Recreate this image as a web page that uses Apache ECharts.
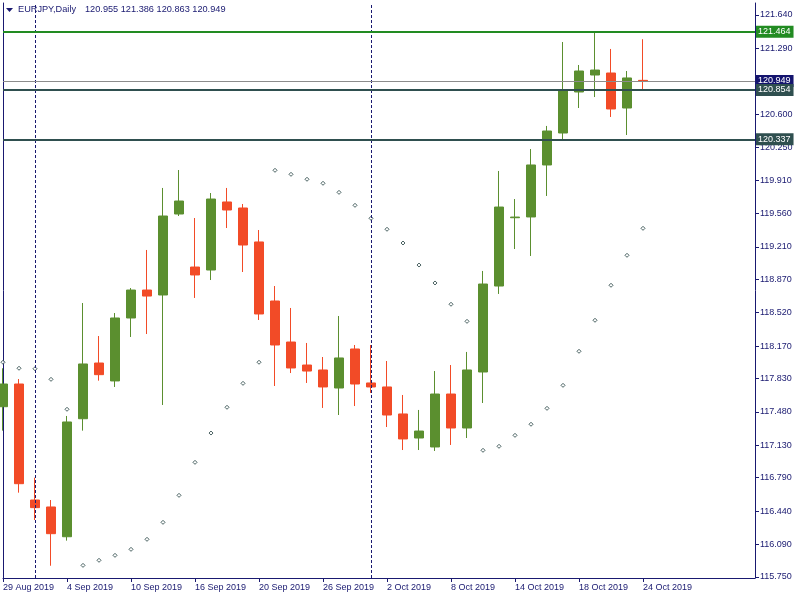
<!DOCTYPE html>
<html>
<head>
<meta charset="utf-8">
<script src="https://cdn.jsdelivr.net/npm/echarts@6/dist/echarts.min.js"></script>
<style>html,body{margin:0;padding:0;background:#fff}#c{width:800px;height:600px}</style>
</head>
<body>
<div id="c"></div>
<script>
const symbolName = 'EURJPY,Daily';
const dates = ['29 Aug 2019','30 Aug 2019','2 Sep 2019','3 Sep 2019','4 Sep 2019','5 Sep 2019','6 Sep 2019','9 Sep 2019','10 Sep 2019','11 Sep 2019','12 Sep 2019','13 Sep 2019','16 Sep 2019','17 Sep 2019','18 Sep 2019','19 Sep 2019','20 Sep 2019','23 Sep 2019','24 Sep 2019','25 Sep 2019','26 Sep 2019','27 Sep 2019','30 Sep 2019','1 Oct 2019','2 Oct 2019','3 Oct 2019','4 Oct 2019','7 Oct 2019','8 Oct 2019','9 Oct 2019','10 Oct 2019','11 Oct 2019','14 Oct 2019','15 Oct 2019','16 Oct 2019','17 Oct 2019','18 Oct 2019','21 Oct 2019','22 Oct 2019','23 Oct 2019','24 Oct 2019'];
const opens  = [117.534,117.772,116.556,116.483,116.171,117.408,117.992,117.804,118.464,118.757,118.705,119.554,118.998,118.967,119.680,119.617,119.261,118.642,118.212,117.971,117.919,117.730,118.139,117.783,117.741,117.458,117.206,117.112,117.667,117.311,117.898,118.799,119.515,119.523,120.068,120.403,120.833,121.011,121.032,120.665,120.955];
const highs  = [117.937,117.824,116.790,116.556,117.437,118.621,118.275,118.516,118.778,119.177,119.827,120.015,119.512,119.774,119.827,119.659,119.386,118.799,118.569,118.202,118.055,118.485,118.181,118.181,118.013,117.657,117.500,117.908,117.971,118.108,118.957,120.005,119.711,120.235,120.477,121.357,121.116,121.464,121.284,121.053,121.386];
const lows   = [117.283,116.633,116.346,115.867,116.130,117.283,117.807,117.741,118.265,118.296,117.552,119.533,118.674,118.862,119.407,118.946,118.443,117.751,117.887,117.783,117.521,117.447,117.541,117.678,117.321,117.080,117.080,117.070,117.133,117.206,117.573,118.716,119.187,119.114,119.743,120.330,120.665,120.780,120.571,120.382,120.863];
const closes = [117.772,116.727,116.476,116.203,117.374,117.982,117.870,118.464,118.757,118.694,119.533,119.690,118.915,119.711,119.596,119.229,118.506,118.181,117.940,117.908,117.741,118.045,117.772,117.741,117.447,117.196,117.279,117.667,117.311,117.919,118.820,119.627,119.522,120.068,120.424,120.854,121.053,121.063,120.655,120.980,120.949];
const sar    = [118.000,117.937,117.932,117.821,117.507,115.871,115.924,115.976,116.039,116.144,116.322,116.605,116.951,117.258,117.528,117.779,118.000,120.012,119.970,119.918,119.876,119.781,119.645,119.509,119.394,119.250,119.019,118.831,118.608,118.429,117.077,117.119,117.234,117.350,117.517,117.758,118.115,118.440,118.807,119.121,119.404];
const priceTicks = [121.640,121.290,120.600,120.250,119.910,119.560,119.210,118.870,118.520,118.170,117.830,117.480,117.130,116.790,116.440,116.090,115.750];
const levelLines = [121.464,120.854,120.337];
const bidLine = 120.949;
const separatorDates = ['2 Sep 2019','1 Oct 2019'];
const futureSlots = 7;

const NAVY = '#191970';
const UP = '#5b8f2f';
const DOWN = '#f24b27';
const FONT = 'Liberation Sans';

const cats = dates.concat(Array(futureSlots).fill(''));
const candles = dates.map((d,i)=>[opens[i],closes[i],lows[i],highs[i]]);
const showIdx = (i,v) => v !== '' && i % 4 === 0;
const yMin = 115.7385, yMax = 121.7658;

const lineLabel = (bg) => ({show:true, position:'end', distance:1, color:'#fff', backgroundColor:bg, fontFamily:FONT, fontSize:9, padding:[2,3,1,2], formatter:p=>Number(p.value).toFixed(3)});

const option = {
  animation:false,
  backgroundColor:'#fff',
  textStyle:{fontFamily:FONT},
  grid:{left:3, top:3, width:752, height:575},
  xAxis:{type:'category', data:cats, boundaryGap:false,
    axisLine:{onZero:false, lineStyle:{color:NAVY, width:1}},
    axisTick:{show:true, length:4, interval:showIdx, lineStyle:{color:NAVY}},
    axisLabel:{interval:showIdx, align:'left', color:NAVY, fontFamily:FONT, fontSize:9, margin:5, hideOverlap:false},
    splitLine:{show:false}},
  yAxis:[
    {type:'value', position:'right', min:yMin, max:yMax, scale:true,
     axisLine:{show:true, lineStyle:{color:NAVY}},
     axisTick:{show:true, length:4, customValues:priceTicks, lineStyle:{color:NAVY}},
     axisLabel:{customValues:priceTicks, formatter:v=>Number(v).toFixed(3), color:NAVY, fontFamily:FONT, fontSize:9, margin:5},
     splitLine:{show:false}},
    {type:'value', position:'left', min:yMin, max:yMax, scale:true,
     axisLine:{show:true, lineStyle:{color:NAVY}}, axisTick:{show:false}, axisLabel:{show:false}, splitLine:{show:false}}
  ],
  series:[
    {type:'candlestick', data:candles, barWidth:10, yAxisIndex:0,
     itemStyle:{color:UP, color0:DOWN, borderColor:UP, borderColor0:DOWN, borderWidth:1},
     markLine:{silent:true, symbol:'none', animation:false, precision:3, z:10,
       data:[
         {xAxis:separatorDates[0], lineStyle:{color:NAVY, type:[3,2], width:1}, label:{show:false}},
         {xAxis:separatorDates[1], lineStyle:{color:NAVY, type:[3,2], width:1}, label:{show:false}},
         {yAxis:bidLine, lineStyle:{color:'#8c8c8c', type:'solid', width:1}, label:lineLabel('#14146e')},
         {yAxis:levelLines[0], lineStyle:{color:'#228b22', type:'solid', width:2}, label:lineLabel('#228b22')},
         {yAxis:levelLines[1], lineStyle:{color:'#2f4f4f', type:'solid', width:2}, label:lineLabel('#2f4f4f')},
         {yAxis:levelLines[2], lineStyle:{color:'#2f4f4f', type:'solid', width:2}, label:lineLabel('#2f4f4f')}
       ]}},
    {type:'scatter', data:sar, yAxisIndex:0, symbol:'diamond', symbolSize:4, z:5,
     itemStyle:{color:'#ffffff', borderColor:'#1e3c3c', borderWidth:1}}
  ],
  graphic:[
    {type:'polygon', shape:{points:[[6,8],[13,8],[9.5,12]]}, style:{fill:NAVY}},
    {type:'text', left:18, top:5, style:{text:symbolName, fill:NAVY, font:'9.2px "Liberation Sans"'}},
    {type:'text', left:85, top:5, style:{text:[opens[40],highs[40],lows[40],closes[40]].map(v=>v.toFixed(3)).join(' '), fill:NAVY, font:'9.2px "Liberation Sans"'}}
  ]
};
const chart = echarts.init(document.getElementById('c'));
chart.setOption(option);
</script>
</body>
</html>
